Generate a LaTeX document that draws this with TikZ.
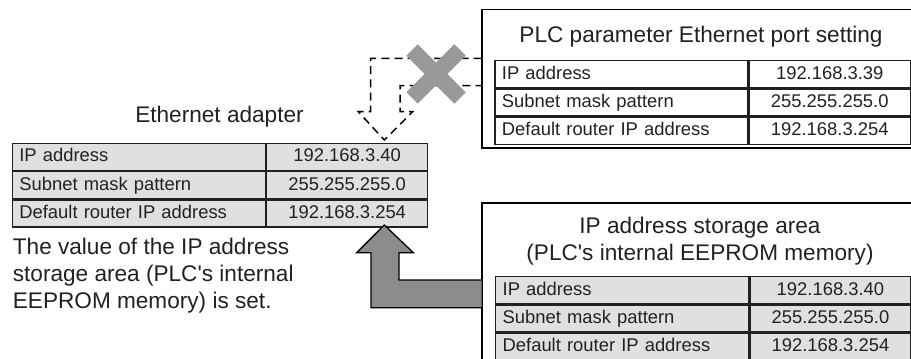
\documentclass[tikz,border=0pt]{standalone}
\usepackage{fontspec}
\setmainfont{Liberation Sans}
\usetikzlibrary{positioning}

\definecolor{cellgray}{gray}{0.88}
\definecolor{arrowgray}{gray}{0.55}
\definecolor{crossgray}{gray}{0.6}
\definecolor{inkgray}{gray}{0.13}

\begin{document}
\begin{tikzpicture}[
x=0.5pt, y=-0.5pt,
node distance=0pt,
cell/.style={draw=inkgray, line width=0.65pt, minimum height=13.5pt, inner sep=0pt, text=inkgray, font=\fontsize{9.2}{11}\selectfont, text height=6.8pt, text depth=1.9pt},
cellname/.style={cell, minimum width=126.5pt, inner xsep=3.5pt, text width=119.5pt, align=left},
cellval/.style={cell, minimum width=80.5pt},
title/.style={text=inkgray, inner sep=0pt, font=\fontsize{11.3}{13.5}\selectfont, align=center},
box/.style={draw=black, line width=0.8pt},
blockarrow/.style={draw=black, line width=0.65pt, fill=arrowgray, line join=miter},
dasharrow/.style={draw=black, line width=0.75pt, dash pattern=on 4pt off 2.6pt},
cross/.style={draw=crossgray, line width=8pt}
]
\useasboundingbox (0,0) rectangle (911,359);

% Ethernet adapter
\node[title] (ethtitle) at (219.5,116.7) {Ethernet adapter};
\node[cellname, fill=cellgray, anchor=north west] (eth1) at (11.7,142.7) {IP address};
\node[cellval, fill=cellgray, right=of eth1] (ethv1) {192.168.3.40};
\node[cellname, fill=cellgray, below=of eth1] (eth2) {Subnet mask pattern};
\node[cellval, fill=cellgray, right=of eth2] (ethv2) {255.255.255.0};
\node[cellname, fill=cellgray, below=of eth2] (eth3) {Default router IP address};
\node[cellval, fill=cellgray, right=of eth3] (ethv3) {192.168.3.254};

\node[title, align=left, anchor=north west] (note) at (12.5,238)
  {The value of the IP address\\storage area (PLC\textquotesingle s internal\\EEPROM memory) is set.};

% PLC parameter
\draw[box] (911,9.3) -- (481.7,9.3) -- (481.7,147.7) -- (911,147.7);
\node[title] (plctitle) at (701,36.7) {PLC parameter Ethernet port setting};
\node[cellname, anchor=north west] (plc1) at (494.3,60) {IP address};
\node[cellval, right=of plc1] (plcv1) {192.168.3.39};
\node[cellname, below=of plc1] (plc2) {Subnet mask pattern};
\node[cellval, right=of plc2] (plcv2) {255.255.255.0};
\node[cellname, below=of plc2] (plc3) {Default router IP address};
\node[cellval, right=of plc3] (plcv3) {192.168.3.254};

% storage area
\draw[box] (911,202.7) -- (481.7,202.7) -- (481.7,359);
\node[title] (memtitle) at (700,241.5) {IP address storage area\\(PLC\textquotesingle s internal EEPROM memory)};
\node[cellname, fill=cellgray, anchor=north west] (mem1) at (495,276) {IP address};
\node[cellval, fill=cellgray, right=of mem1] (memv1) {192.168.3.40};
\node[cellname, fill=cellgray, below=of mem1] (mem2) {Subnet mask pattern};
\node[cellval, fill=cellgray, right=of mem2] (memv2) {255.255.255.0};
\node[cellname, fill=cellgray, below=of mem2] (mem3) {Default router IP address};
\node[cellval, fill=cellgray, right=of mem3] (memv3) {192.168.3.254};

% not used: parameter setting
\draw[dasharrow] (481.7,58.3) -- (370.7,58.3) -- (370.7,111.7) -- (358.3,111.7)
  -- (384.3,140) -- (412.7,111.7) -- (400,111.7) -- (400,85.7) -- (481.7,85.7);
\draw[cross] (412,50) -- (460,98);
\draw[cross] (460,50) -- (412,98);

% used: storage area
\draw[blockarrow] (481.7,280) -- (399,280) -- (399,252.7) -- (413.3,252.7)
  -- (384.3,225) -- (356.7,252.7) -- (371,252.7) -- (371,307.7) -- (481.7,307.7);
\end{tikzpicture}
\end{document}
